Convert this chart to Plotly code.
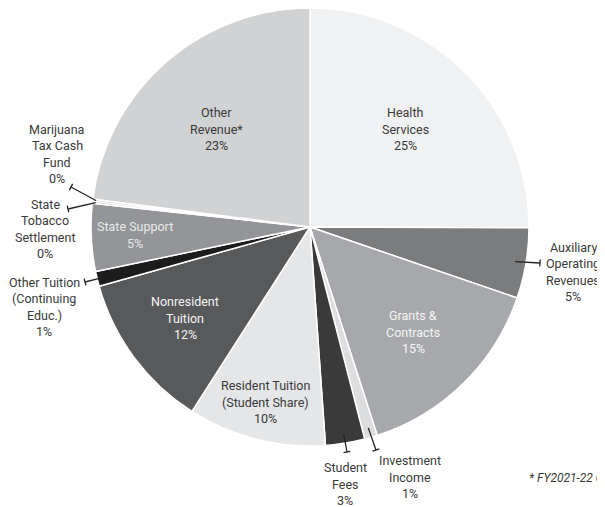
import math
import plotly.graph_objects as go

# ---- data (clockwise from 12 o'clock) ----
labels = ["Health Services", "Auxiliary Operating Revenues", "Grants & Contracts",
          "Investment Income", "Student Fees", "Resident Tuition (Student Share)",
          "Nonresident Tuition", "Other Tuition (Continuing Educ.)", "State Support",
          "State Tobacco Settlement", "Marijuana Tax Cash Fund", "Other Revenue*"]
values = [25.1, 5.2, 14.8, 0.95, 2.9, 10.2, 11.6, 1.1, 5.0, 0.15, 0.15, 23.0]
pct_text = ["25%", "5%", "15%", "1%", "3%", "10%", "12%", "1%", "5%", "0%", "0%", "23%"]
label_lines = [["Health", "Services"], ["Auxiliary", "Operating", "Revenues"],
               ["Grants &", "Contracts"], ["Investment", "Income"], ["Student", "Fees"],
               ["Resident Tuition", "(Student Share)"], ["Nonresident", "Tuition"],
               ["Other Tuition", "(Continuing", "Educ.)"], ["State Support"],
               ["State", "Tobacco", "Settlement"], ["Marijuana", "Tax Cash", "Fund"],
               ["Other", "Revenue*"]]
colors = ["#f0f1f3", "#7b7c7e", "#a7a8ab", "#dcdddf", "#3a3a3b", "#e5e6e8",
          "#58595b", "#1c1c1c", "#939598", "#c8c9cb", "#c8c9cb", "#d1d2d4"]
footnote = "* FY2021-22 Cost Recovery Revenue"

# the page body adds an 8px margin, so the figure is 8px smaller each way
OFF = 8
W, H = 605 - OFF, 507 - OFF
CX, CY, R = 310, 227, 219          # pie geometry in reference pixels
FONT = "Roboto, Liberation Sans, Arial, sans-serif"
FS = 12.5
LH = 16.2

# label layout: (center x px, center y px, text color, connector end px or None)
layout_info = [
    (405, 129, "#3a3a3a", None),
    (573, 272, "#3a3a3a", (540, 263)),
    (413, 332, "#f4f4f4", None),
    (410, 477, "#3a3a3a", (376, 450)),
    (345, 484, "#3a3a3a", (347, 452)),
    (265, 402, "#3a3a3a", None),
    (185, 318, "#f4f4f4", None),
    (44, 307, "#3a3a3a", (85, 282)),
    (135, 235, "#e8e8e8", None),
    (45, 229, "#3a3a3a", (68, 209)),
    (57, 154, "#3a3a3a", (71, 187)),
    (216, 129, "#3a3a3a", None),
]
rim_frac = [0, 0.95, 0, 0.955, 0.96, 0, 0, 0.99, 0, 0.985, 0.985, 0]


def px(x, y):
    return (x - OFF) / W, 1 - (y - OFF) / H


def clamp(v):
    return max(0.0, min(1.0, v))


dx0, dy1 = px(CX - R, CY - R)
dx1, dy0 = px(CX + R, CY + R)
fig = go.Figure(go.Pie(
    labels=labels, values=values, sort=False, direction="clockwise", rotation=0,
    marker=dict(colors=colors, line=dict(color="white", width=1.5)),
    textinfo="none", hoverinfo="label+percent", showlegend=False,
    domain=dict(x=[clamp(dx0), clamp(dx1)], y=[clamp(dy0), clamp(dy1)]),
))

annotations = []
shapes = []
total = sum(values)
cum = 0.0
for i, v in enumerate(values):
    a0 = cum / total * 360
    cum += v
    a1 = cum / total * 360
    mid = math.radians((a0 + a1) / 2)
    lx, ly, col, end = layout_info[i]
    lines = label_lines[i] + [pct_text[i]]
    n = len(lines)
    for k, t in enumerate(lines):
        yy = ly + (k - (n - 1) / 2) * LH
        xp, yp = px(lx, yy)
        annotations.append(dict(x=xp, y=yp, xref="paper", yref="paper", text=t,
                                showarrow=False, xanchor="center", yanchor="middle",
                                font=dict(family=FONT, size=FS, color=col)))
    if end is not None:
        r = R * rim_frac[i]
        sx = CX + r * math.sin(mid)
        sy = CY - r * math.cos(mid)
        ex, ey = end
        x0, y0 = px(sx, sy)
        x1, y1 = px(ex, ey)
        shapes.append(dict(type="line", xref="paper", yref="paper", x0=x0, y0=y0, x1=x1, y1=y1,
                           line=dict(color="#222222", width=1.3)))
        ddx, ddy = ex - sx, ey - sy
        L = math.hypot(ddx, ddy)
        nx, ny = -ddy / L * 3.5, ddx / L * 3.5
        t0 = px(ex + nx, ey + ny)
        t1 = px(ex - nx, ey - ny)
        shapes.append(dict(type="line", xref="paper", yref="paper", x0=t0[0], y0=t0[1],
                           x1=t1[0], y1=t1[1], line=dict(color="#222222", width=1.3)))

fx, fy = px(527, 478)
annotations.append(dict(x=fx, y=fy, xref="paper", yref="paper", text="<i>" + footnote + "</i>",
                        showarrow=False, xanchor="left", yanchor="middle",
                        font=dict(family=FONT, size=12, color="#3a3a3a")))

fig.update_layout(width=W, height=H, margin=dict(l=0, r=0, t=0, b=0),
                  paper_bgcolor="white", plot_bgcolor="white",
                  annotations=annotations, shapes=shapes)
fig.write_html("out.html")
